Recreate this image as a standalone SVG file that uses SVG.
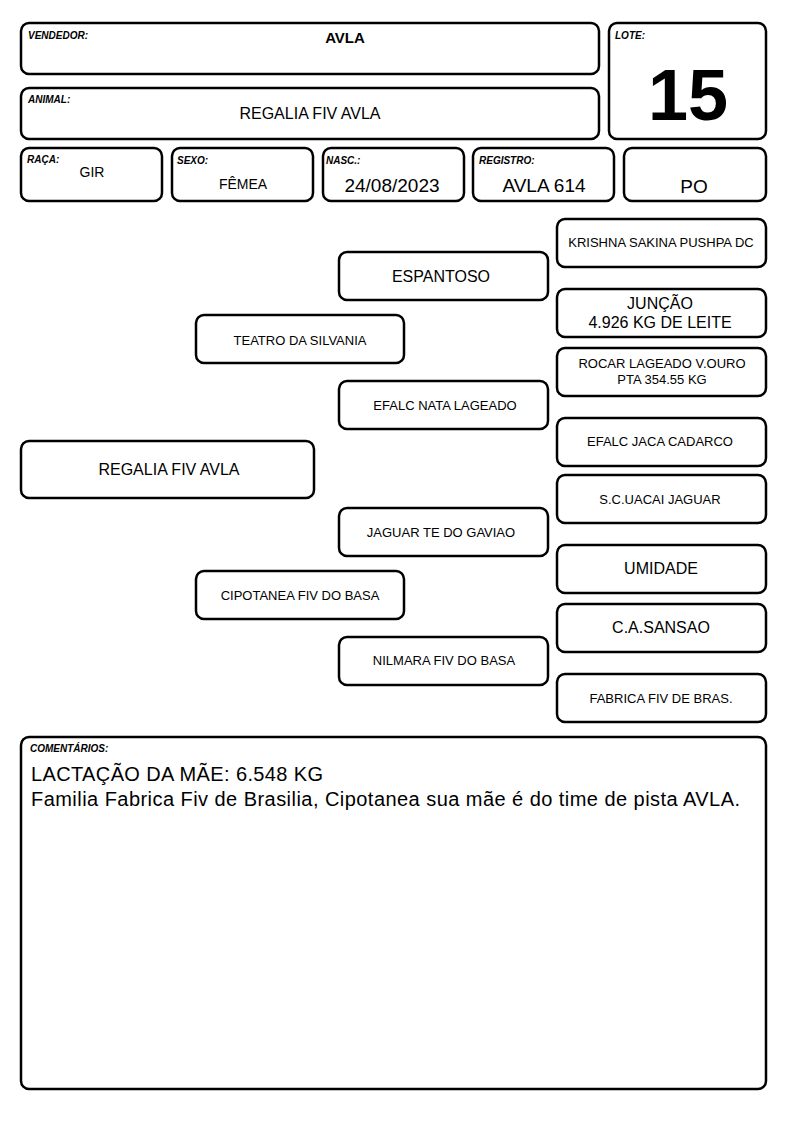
<svg xmlns="http://www.w3.org/2000/svg" width="794" height="1123" viewBox="0 0 794 1123">
<style>
.b{fill:#fff;stroke:#000;stroke-width:2.5}
text{font-family:"Liberation Sans",Arial,sans-serif;fill:#000}
.l{font-size:10px;font-weight:bold;font-style:italic}
.c{text-anchor:middle}
.s{font-size:13px}
.m{font-size:16px}
.v{font-size:19px}
</style>
<rect width="794" height="1123" fill="#fff"/>
<g id="vendedor"><rect class="b" x="21" y="23" width="578" height="51" rx="8"/><text class="l" x="28" y="39">VENDEDOR:</text><text class="c" x="345" y="43" font-size="15" font-weight="bold">AVLA</text></g>
<g id="animal"><rect class="b" x="21" y="88" width="578" height="51" rx="8"/><text class="l" x="28" y="103">ANIMAL:</text><text class="c m" x="310" y="119">REGALIA FIV AVLA</text></g>
<g id="lote"><rect class="b" x="609" y="23" width="157" height="116" rx="8"/><text class="l" x="615" y="39">LOTE:</text><text class="c" x="688" y="120" font-size="72" font-weight="bold">15</text></g>
<g id="raca"><rect class="b" x="21" y="148" width="141" height="53" rx="8"/><text class="l" x="27" y="163">RAÇA:</text><text class="c" x="92" y="177" font-size="14">GIR</text></g>
<g id="sexo"><rect class="b" x="172" y="148" width="141" height="53" rx="8"/><text class="l" x="177" y="164">SEXO:</text><text class="c" x="243" y="189" font-size="14">FÊMEA</text></g>
<g id="nasc"><rect class="b" x="323" y="148" width="141" height="53" rx="8"/><text class="l" x="326" y="164">NASC.:</text><text class="c v" x="392" y="192">24/08/2023</text></g>
<g id="registro"><rect class="b" x="473" y="148" width="141" height="53" rx="8"/><text class="l" x="479" y="164">REGISTRO:</text><text class="c v" x="544" y="192">AVLA 614</text></g>
<g id="po"><rect class="b" x="624" y="148" width="142" height="53" rx="8"/><text class="c v" x="694" y="193">PO</text></g>

<g id="regalia"><rect class="b" x="21" y="441" width="293" height="57" rx="8"/><text class="c m" x="169" y="475">REGALIA FIV AVLA</text></g>
<g id="teatro"><rect class="b" x="196" y="315" width="208" height="48" rx="8"/><text class="c s" x="300" y="345">TEATRO DA SILVANIA</text></g>
<g id="cipotanea"><rect class="b" x="196" y="571" width="208" height="48" rx="8"/><text class="c s" x="300" y="600">CIPOTANEA FIV DO BASA</text></g>
<g id="espantoso"><rect class="b" x="339" y="252" width="209" height="48" rx="8"/><text class="c m" x="441" y="282">ESPANTOSO</text></g>
<g id="efalc-nata"><rect class="b" x="339" y="381" width="209" height="48" rx="8"/><text class="c s" x="445" y="410">EFALC NATA LAGEADO</text></g>
<g id="jaguar"><rect class="b" x="339" y="508" width="209" height="48" rx="8"/><text class="c s" x="441" y="537">JAGUAR TE DO GAVIAO</text></g>
<g id="nilmara"><rect class="b" x="339" y="637" width="209" height="48" rx="8"/><text class="c s" x="444" y="665">NILMARA FIV DO BASA</text></g>
<g id="krishna"><rect class="b" x="557" y="219" width="209" height="48" rx="8"/><text class="c s" x="661" y="247">KRISHNA SAKINA PUSHPA DC</text></g>
<g id="juncao"><rect class="b" x="557" y="289" width="209" height="48" rx="8"/><text class="c m" x="660" y="309">JUNÇÃO</text><text class="c m" x="660" y="328">4.926 KG DE LEITE</text></g>
<g id="rocar"><rect class="b" x="557" y="348" width="209" height="48" rx="8"/><text class="c s" x="662" y="368">ROCAR LAGEADO V.OURO</text><text class="c s" x="662" y="384">PTA 354.55 KG</text></g>
<g id="efalc-jaca"><rect class="b" x="557" y="418" width="209" height="48" rx="8"/><text class="c s" x="660" y="446">EFALC JACA CADARCO</text></g>
<g id="uacai"><rect class="b" x="557" y="475" width="209" height="48" rx="8"/><text class="c s" x="660" y="504">S.C.UACAI JAGUAR</text></g>
<g id="umidade"><rect class="b" x="557" y="545" width="209" height="48" rx="8"/><text class="c m" x="661" y="574">UMIDADE</text></g>
<g id="sansao"><rect class="b" x="557" y="604" width="209" height="48" rx="8"/><text class="c m" x="661" y="633">C.A.SANSAO</text></g>
<g id="fabrica"><rect class="b" x="557" y="674" width="209" height="48" rx="8"/><text class="c s" x="661" y="703">FABRICA FIV DE BRAS.</text></g>
<g id="connectors"></g>

<g id="comentarios"><rect class="b" x="21" y="737" width="745" height="352" rx="8"/><text class="l" x="30" y="752">COMENTÁRIOS:</text><text x="31" y="781" font-size="20" textLength="292" lengthAdjust="spacing">LACTAÇÃO DA MÃE: 6.548 KG</text><text x="31" y="806" font-size="20" textLength="709" lengthAdjust="spacing">Familia Fabrica Fiv de Brasilia, Cipotanea sua mãe é do time de pista AVLA.</text></g>
</svg>
